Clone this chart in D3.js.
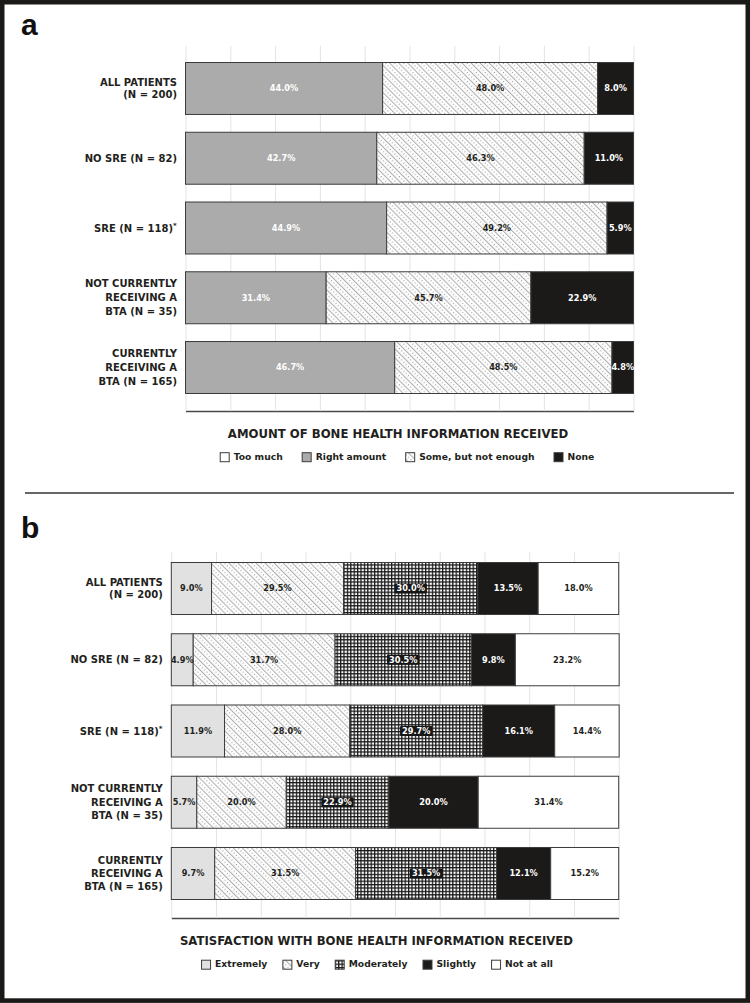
<!DOCTYPE html>
<html><head><meta charset="utf-8">
<script src="https://cdn.jsdelivr.net/npm/d3@7/dist/d3.min.js"></script>
<style>body{margin:0;background:#fff} svg{display:block}</style>
</head><body><svg id="c" width="750" height="1003"></svg>
<script>
// ---------- DATA ----------
const categories = ["ALL PATIENTS\n(N = 200)", "NO SRE (N = 82)", "SRE (N = 118)*", "NOT CURRENTLY\nRECEIVING A\nBTA (N = 35)", "CURRENTLY\nRECEIVING A\nBTA (N = 165)"];

const infoSeries = ["Too much", "Right amount", "Some, but not enough", "None"];
const infoTooMuch = [0, 0, 0, 0, 0];
const infoRightAmount = [44.0, 42.7, 44.9, 31.4, 46.7];
const infoSomeNotEnough = [48.0, 46.3, 49.2, 45.7, 48.5];
const infoNone = [8.0, 11.0, 5.9, 22.9, 4.8];
const infoTitle = "AMOUNT OF BONE HEALTH INFORMATION RECEIVED";

const satSeries = ["Extremely", "Very", "Moderately", "Slightly", "Not at all"];
const satExtremely = [9.0, 4.9, 11.9, 5.7, 9.7];
const satVery = [29.5, 31.7, 28.0, 20.0, 31.5];
const satModerately = [30.0, 30.5, 29.7, 22.9, 31.5];
const satSlightly = [13.5, 9.8, 16.1, 20.0, 12.1];
const satNotAtAll = [18.0, 23.2, 14.4, 31.4, 15.2];
const satTitle = "SATISFACTION WITH BONE HEALTH INFORMATION RECEIVED";

const gridTicks = [0, 10, 20, 30, 40, 50, 60, 70, 80, 90, 100];

// ---------- STYLES ----------
const FONT = "'DejaVu Sans', sans-serif";
const INK = "#231f20";
const styles = {
  "Too much": {fill: "#ffffff", text: INK},
  "Right amount": {fill: "#ababab", text: "#ffffff"},
  "Some, but not enough": {fill: "url(#hatch)", text: INK},
  "None": {fill: "#1b1a19", text: "#ffffff"},
  "Extremely": {fill: "#e1e1e1", text: INK},
  "Very": {fill: "url(#hatch)", text: INK},
  "Moderately": {fill: "url(#grid)", text: "#ffffff", box: true},
  "Slightly": {fill: "#1b1a19", text: "#ffffff"},
  "Not at all": {fill: "#ffffff", text: INK}
};

const svg = d3.select("#c");
const defs = svg.append("defs");
const hatch = defs.append("pattern").attr("id", "hatch").attr("patternUnits", "userSpaceOnUse")
  .attr("width", 6.4).attr("height", 6.4).attr("patternTransform", "rotate(-45)");
hatch.append("rect").attr("width", 6.4).attr("height", 6.4).attr("fill", "#fff");
hatch.append("line").attr("x1", 0.6).attr("x2", 0.6).attr("y1", 0).attr("y2", 6.4)
  .attr("stroke", "#a0a0a0").attr("stroke-width", 0.9);
hatch.append("line").attr("x1", 3.8).attr("x2", 3.8).attr("y1", 0.5).attr("y2", 6.4)
  .attr("stroke", "#222").attr("stroke-width", 0.75).attr("stroke-dasharray", "0.75 2.45");
const grid = defs.append("pattern").attr("id", "grid").attr("patternUnits", "userSpaceOnUse")
  .attr("width", 3.4).attr("height", 3.4);
grid.append("rect").attr("width", 3.4).attr("height", 3.4).attr("fill", "#161616");
grid.append("rect").attr("x", 1.25).attr("y", 1.25).attr("width", 2.15).attr("height", 2.15).attr("fill", "#fff");

// outer frame + divider
svg.append("rect").attr("x", 2.2).attr("y", 2.2).attr("width", 745.6).attr("height", 998.4)
  .attr("fill", "none").attr("stroke", "#1b1a19").attr("stroke-width", 4.6);
svg.append("line").attr("x1", 25).attr("x2", 734).attr("y1", 493).attr("y2", 493)
  .attr("stroke", "#333").attr("stroke-width", 1.6);

function drawPanel(o) {
  const g = svg.append("g");
  g.append("text").attr("x", 21).attr("y", o.letterY).text(o.letter)
    .attr("font-family", "'Liberation Sans', Arial, sans-serif").attr("font-weight", "bold")
    .attr("font-size", 30).attr("fill", "#111");

  const x = d3.scaleLinear().domain([0, 100]).range([o.x0, o.x1]);
  const y = d3.scaleBand().domain(categories).range([o.barTop, o.barBot]).paddingInner(o.pad).paddingOuter(0);

  // grid lines + baseline via axis
  const ax = g.append("g").attr("transform", `translate(0,${o.axisY})`)
    .call(d3.axisBottom(x).tickValues(gridTicks).tickSize(-(o.axisY - o.gridTop)).tickSizeOuter(0).tickFormat(""));
  ax.selectAll(".tick line").attr("stroke", "#e4e4e4").attr("stroke-width", 1);
  ax.select(".domain").attr("stroke", "#4a4a4a").attr("stroke-width", 1.6);

  const table = categories.map((c, i) => {
    const r = {cat: c};
    o.series.forEach((s, j) => r[s] = o.values[j][i]);
    return r;
  });
  const stacked = d3.stack().keys(o.series)(table);

  const layers = g.selectAll(".layer").data(stacked).join("g");
  layers.selectAll("rect").data(d => d.filter(p => p[1] - p[0] > 0).map(p => Object.assign(p, {key: d.key})))
    .join("rect")
    .attr("x", d => x(d[0])).attr("width", d => x(d[1]) - x(d[0]))
    .attr("y", d => y(d.data.cat)).attr("height", y.bandwidth())
    .attr("fill", d => styles[d.key].fill)
    .attr("stroke", "#3c3c3c").attr("stroke-width", 1);

  // value labels
  stacked.forEach(layer => {
    const st = styles[layer.key];
    layer.forEach(p => {
      const v = p[1] - p[0];
      if (v <= 0) return;
      const cx = (x(p[0]) + x(p[1])) / 2, cy = y(p.data.cat) + y.bandwidth() / 2;
      const t = g.append("text").attr("x", cx).attr("y", cy).attr("dy", "0.36em")
        .attr("text-anchor", "middle").attr("font-family", FONT).attr("font-weight", "bold")
        .attr("font-size", 8.2).attr("fill", st.text).text(d3.format(".1f")(v) + "%");
      if (st.box) {
        const b = t.node().getBBox();
        g.insert("rect", () => t.node()).attr("x", b.x - 2).attr("y", cy - 5).attr("width", b.width + 4)
          .attr("height", 10).attr("rx", 1).attr("fill", "#161616");
      }
    });
  });

  // category labels
  categories.forEach(c => {
    const lines = c.split("\n");
    const lh = lines.length === 3 ? o.lh3 : o.lh2;
    const cy = y(c) + y.bandwidth() / 2;
    const t = g.append("text").attr("text-anchor", "end").attr("font-family", FONT)
      .attr("font-weight", "bold").attr("font-size", 10).attr("fill", INK);
    lines.forEach((ln, i) => {
      const base = cy + 3.6 + (i - (lines.length - 1) / 2) * lh;
      const star = ln.endsWith("*");
      t.append("tspan").attr("x", o.x0 - 8.5 - (star ? 4 : 0)).attr("y", base).text(star ? ln.slice(0, -1) : ln);
      if (star) {
        g.append("text").attr("x", o.x0 - 8.5 - 4).attr("y", base - 4).attr("font-family", FONT)
          .attr("font-weight", "bold").attr("font-size", 7).attr("fill", INK).text("*");
      }
    });
  });

  // title
  g.append("text").attr("x", o.titleX).attr("y", o.titleY).attr("text-anchor", "middle")
    .attr("font-family", FONT).attr("font-weight", "bold").attr("font-size", 11.7).attr("fill", INK)
    .text(o.title);

  // legend
  const lg = g.append("g");
  let cursor = 0;
  o.series.forEach(s => {
    const it = lg.append("g").attr("transform", `translate(${cursor},0)`);
    it.append("rect").attr("x", 0.5).attr("y", -6.8).attr("width", 9).attr("height", 9)
      .attr("fill", styles[s].fill).attr("stroke", "#3c3c3c").attr("stroke-width", 1);
    const tx = it.append("text").attr("x", 14).attr("y", 0).attr("font-family", FONT)
      .attr("font-weight", "bold").attr("font-size", 9.2).attr("fill", INK).text(s);
    const w = 14 + tx.node().getComputedTextLength();
    cursor += w + o.legendGap;
  });
  const total = cursor - o.legendGap;
  lg.attr("transform", `translate(${o.legendCx - total / 2},${o.legendY})`);
}

drawPanel({
  letter: "a", letterY: 34.5,
  x0: 185.5, x1: 633.5, barTop: 62.5, barBot: 393.5, pad: 0.255, gridTop: 46, axisY: 411,
  series: infoSeries, values: [infoTooMuch, infoRightAmount, infoSomeNotEnough, infoNone],
  lh2: 11.8, lh3: 14, title: infoTitle, titleX: 398, titleY: 438,
  legendCx: 407, legendY: 459.5, legendGap: 19
});
drawPanel({
  letter: "b", letterY: 537.5,
  x0: 171.3, x1: 618.7, barTop: 562.5, barBot: 899.5, pad: 0.27, gridTop: 552, axisY: 918,
  series: satSeries, values: [satExtremely, satVery, satModerately, satSlightly, satNotAtAll],
  lh2: 12.4, lh3: 13.4, title: satTitle, titleX: 376.5, titleY: 944.5,
  legendCx: 377, legendY: 967, legendGap: 15
});
</script></body></html>
